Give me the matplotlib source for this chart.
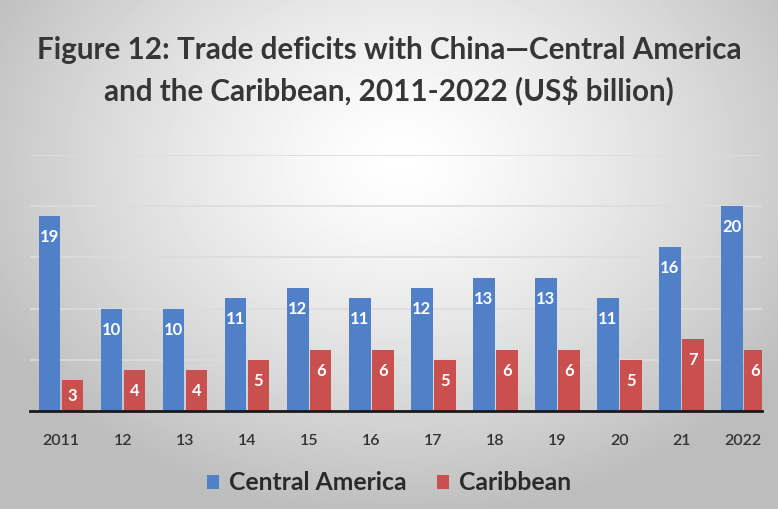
import numpy as np
import matplotlib.pyplot as plt

years = ['2011', '12', '13', '14', '15', '16', '17', '18', '19', '20', '21', '2022']
central_america = [19, 10, 10, 11, 12, 11, 12, 13, 13, 11, 16, 20]
caribbean = [3, 4, 4, 5, 6, 6, 5, 6, 6, 5, 7, 6]

blue = '#4f80c8'
red = '#c9504e'
plt.rcParams['font.family'] = ['Lato', 'DejaVu Sans']

fig = plt.figure(figsize=(7.78, 5.09), dpi=100)

# soft radial gray background
bg = fig.add_axes([0, 0, 1, 1], zorder=-10)
yy, xx = np.mgrid[0:509, 0:778]
d = np.sqrt(((xx - 400) / 520.0) ** 2 + ((yy - 160) / 400.0) ** 2)
shade = np.clip(1.0 - 0.3 * d ** 1.3, 0.74, 1.0)
bg.imshow(shade, cmap='gray', vmin=0, vmax=1, aspect='auto', interpolation='bilinear')
bg.axis('off')

ax = fig.add_axes([30 / 778, 1 - 411 / 509, 732 / 778, 256 / 509])
ax.patch.set_alpha(0)

x = np.arange(len(years))
w = 0.35
b1 = ax.bar(x - 0.185, central_america, w, color=blue, zorder=3, label='Central America')
b2 = ax.bar(x + 0.185, caribbean, w, color=red, zorder=3, label='Caribbean')

ax.set_ylim(0, 25)
ax.set_xlim(-0.5, 11.3)
ax.set_yticks([5, 10, 15, 20, 25])
ax.yaxis.grid(True, color='#dcdcdc', linewidth=1.2, zorder=0)
ax.tick_params(axis='y', left=False, labelleft=False)
ax.tick_params(axis='x', bottom=False, labelsize=11.5, labelcolor='#333333', pad=13)
ax.set_xticks(x)
ax.set_xticklabels(years, fontweight='semibold')
for s in ['top', 'left', 'right']:
    ax.spines[s].set_visible(False)
ax.spines['bottom'].set_color('#1a1a1a')
ax.spines['bottom'].set_linewidth(2)
ax.spines['bottom'].set_zorder(4)

# value labels just inside the bar tops
px_per_unit = 256 / 25
for bars, vals in [(b1, central_america), (b2, caribbean)]:
    for rect, v in zip(bars, vals):
        off = min(21, v * px_per_unit / 2)
        ax.annotate(str(v), (rect.get_x() + rect.get_width() / 2, v),
                    xytext=(0, -off), textcoords='offset pixels',
                    ha='center', va='center', color='white',
                    fontsize=12, fontweight='bold', zorder=5)

fig.text(0.5, 1 - 50 / 509, 'Figure 12: Trade deficits with China\u2014Central America',
         ha='center', va='center', fontsize=21.3, fontweight='bold', color='#363636')
fig.text(0.5, 1 - 90 / 509, 'and the Caribbean, 2011-2022 (US$ billion)',
         ha='center', va='center', fontsize=21.3, fontweight='bold', color='#363636')

fig.legend(loc='center', bbox_to_anchor=(0.5, 1 - 483 / 509), ncol=2, frameon=False,
           prop={'size': 17.8, 'weight': 'bold'}, handlelength=0.5, handleheight=0.5,
           handletextpad=0.4, columnspacing=1.2, labelcolor='#2a2a2a')

fig.savefig('out.png', dpi=100)
